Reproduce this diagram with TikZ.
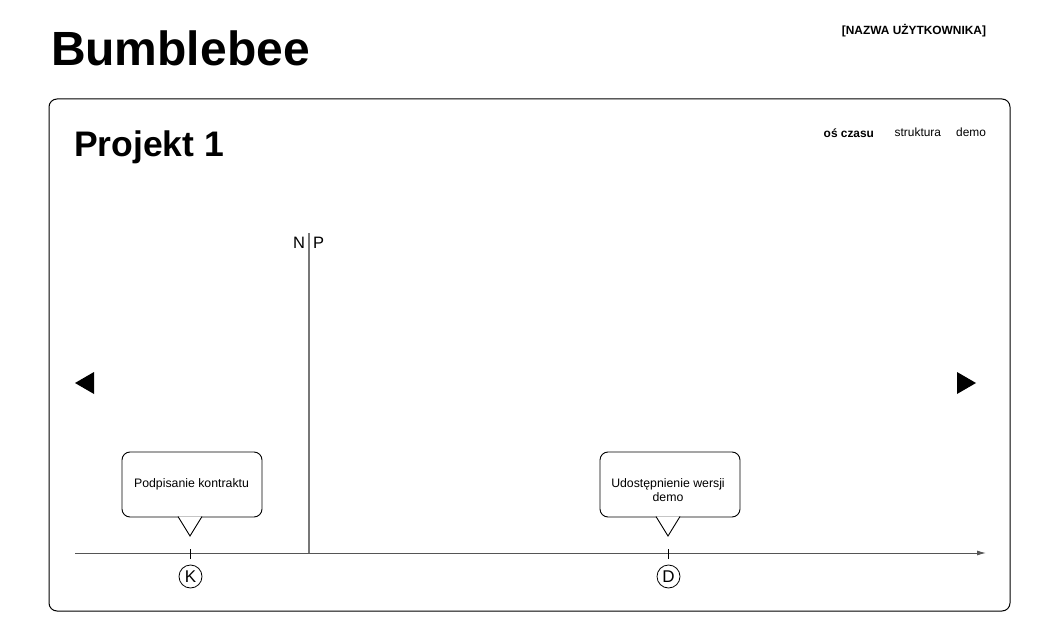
\documentclass[tikz,border=0pt]{standalone}
\usepackage{fontspec}
\setmainfont{Liberation Sans}
\usetikzlibrary{arrows.meta,shapes.callouts}
\definecolor{axisgray}{HTML}{555555}
\definecolor{npgray}{HTML}{777777}
\tikzset{
  txt/.style={inner sep=0pt, outer sep=0pt},
  bubble/.style={draw=black, line width=0.9pt, rounded corners=8pt},
  tickmark/.style={draw=black, line width=0.8pt},
  marker/.style={draw=black, circle, line width=0.8pt, minimum size=23pt, inner sep=0pt, font=\fontsize{17}{17}\selectfont},
  navtri/.style={fill=black, draw=none},
}
\begin{document}
\begin{tikzpicture}[x=1pt,y=-1pt]
\useasboundingbox (0,0) rectangle (1060,639);
% header
\node[txt, anchor=base west, font=\bfseries\fontsize{48}{50}\selectfont] (title) at (51,66) {Bumblebee};
\node[txt, anchor=base east, font=\bfseries\fontsize{11.9}{14}\selectfont] (user) at (986,35) {[NAZWA UŻYTKOWNIKA]};
% frame
\draw[line width=1pt, rounded corners=8pt] (49,99) rectangle (1010,611);
\node[txt, anchor=base west, font=\bfseries\fontsize{35.5}{40}\selectfont] (proj) at (74,157) {Projekt 1};
\node[txt, anchor=base east, font=\fontsize{11.9}{14}\selectfont] (demo) at (986,137) {demo};
\node[txt, anchor=base east, font=\fontsize{11.9}{14}\selectfont] (struct) at (941,137) {struktura};
\node[txt, anchor=base east, font=\bfseries\fontsize{11.9}{14}\selectfont] (os) at (874,138) {oś czasu};
% now line
\coordinate (nowtop) at (309,233);
\coordinate (nowbot) at (309,553);
\draw[npgray, line width=1.2pt] (nowtop) -- (nowbot);
\node[txt, anchor=base east, font=\fontsize{16.5}{18}\selectfont] (N) at (305,248) {N};
\node[txt, anchor=base west, font=\fontsize{16.5}{18}\selectfont] (P) at (313,248) {P};
% nav arrows
\fill[navtri] (75,383) -- (94,372) -- (94,394) -- cycle;
\fill[navtri] (976,383) -- (957,372) -- (957,394) -- cycle;
% timeline
\coordinate (tlstart) at (75,553);
\coordinate (tlend) at (986,553);
\draw[axisgray, line width=1pt, -{Latex[length=9pt,width=5pt]}] (tlstart) -- (tlend);
% event K
\draw[tickmark] (190,549) -- (190,559);
\node[marker] (K) at (190.5,576.5) {K};
\draw[bubble] (122,452) rectangle (262,517);
\draw[line width=0.9pt, fill=white] (178,516.5) -- (190,536) -- (202,516.5);
\node[txt, align=center, font=\fontsize{12.3}{14}\selectfont] (ev1) at (191.5,484) {Podpisanie kontraktu};
% event D
\draw[tickmark] (668,549) -- (668,559);
\node[marker] (D) at (668.5,576.5) {D};
\draw[bubble] (600,452) rectangle (740,517);
\draw[line width=0.9pt, fill=white] (656,516.5) -- (668,536) -- (680,516.5);
\node[txt, align=center, font=\fontsize{12.3}{14}\selectfont] (ev2) at (668,490) {Udostępnienie wersji\\demo};
\end{tikzpicture}
\end{document}
